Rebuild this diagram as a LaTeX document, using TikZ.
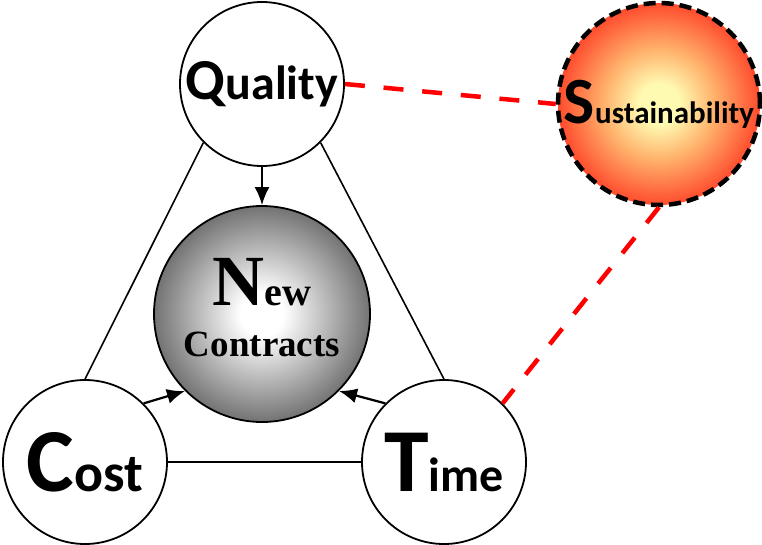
\documentclass[tikz,border=0pt]{standalone}
\usepackage{fontspec}
\usepackage{tikz}
\usetikzlibrary{shapes.geometric, arrows.meta}
\newfontfamily\calfont{Carlito}
\newfontfamily\timesfont{Liberation Serif}
\definecolor{sustcore}{RGB}{255,250,178}
\definecolor{sustmid}{RGB}{255,175,105}
\definecolor{sustedge}{RGB}{255,75,45}
% radial shadings: the circle edge sits at 25bp
\pgfdeclareradialshading{ballgray}{\pgfpoint{0bp}{0bp}}{color(0bp)=(white); color(5bp)=(white); color(25bp)=(black!55); color(50bp)=(black!55)}
\pgfdeclareradialshading{ballsun}{\pgfpoint{0bp}{0bp}}{color(0bp)=(sustcore); color(5bp)=(sustcore); color(14bp)=(sustmid); color(25bp)=(sustedge); color(50bp)=(sustedge)}
\tikzstyle{corner} = [circle, minimum size=164pt, inner sep=0pt, draw=black, line width=1.8pt, fill=white, font=\calfont\bfseries]
\tikzstyle{hub} = [circle, minimum size=216pt, inner sep=0pt, draw=black, line width=1.8pt, shade, shading=ballgray, align=center, font=\timesfont\bfseries\fontsize{37}{51}\selectfont]
\tikzstyle{goal} = [circle, minimum size=202pt, inner sep=0pt, draw=black, line width=4.5pt, dash pattern=on 12pt off 6pt, shade, shading=ballsun, font=\calfont\bfseries]
\tikzstyle{side} = [line width=1.6pt]
\tikzstyle{arrow} = [line width=2.2pt, -{Latex[length=18pt,width=15pt]}]
\tikzstyle{link} = [red, line width=4.5pt, dash pattern=on 20pt off 18.8pt]

\begin{document}
\begin{tikzpicture}[x=1pt, y=-1pt]
\useasboundingbox (0,0) rectangle (762,544);

\node (quality) [corner] at (262,84) {\fontsize{58}{58}\selectfont Q\fontsize{48}{48}\selectfont uality};

\node (sust) [goal] at (659,104) {\fontsize{66}{66}\selectfont S\fontsize{31}{31}\selectfont ustainability};

\node (newc) [hub, text depth=14pt] at (262,314) {\fontsize{72}{51}\selectfont N\fontsize{40}{51}\selectfont ew\\Contracts};

\node (cost) [corner] at (85,462) {\fontsize{90}{90}\selectfont C\fontsize{54}{54}\selectfont ost};
\node (time) [corner] at (444,462) {\fontsize{90}{90}\selectfont T\fontsize{48}{48}\selectfont ime};

\draw [side] (quality.south west) -- (cost.north);
\draw [side] (quality.south east) -- (time.north);
\draw [side] (cost.east) -- (time.west);

\draw [arrow] (quality.south) -- (newc.north);
\draw [arrow] (cost.north east) -- (newc.south west);
\draw [arrow] (time.north west) -- (newc.south east);

\draw [link] (quality.east) -- (sust.west);
\draw [link] (sust.south) -- (time.north east);

\end{tikzpicture}
\end{document}
